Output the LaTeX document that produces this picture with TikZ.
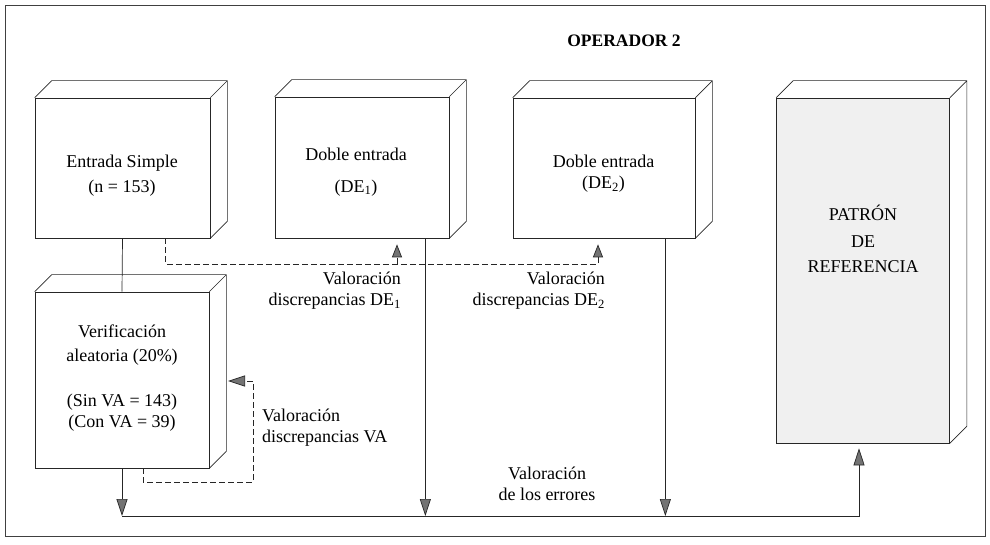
\documentclass[tikz,border=0pt]{standalone}
\usepackage{fontspec}
\setmainfont{Liberation Serif}
\newfontfamily\diagserif{Liberation Serif}
\usetikzlibrary{arrows.meta}
\begin{document}
\begin{tikzpicture}[x=1pt,y=-1pt,
  face/.style={draw=black!85, line width=0.7pt, inner sep=0pt},
  lbl/.style={font=\diagserif\fontsize{18}{21}\selectfont, inner sep=0pt, align=center},
  conn/.style={draw=black!85, line width=0.7pt},
  dashconn/.style={conn, dash pattern=on 6pt off 3pt},
  arrowtip/.style={-{Triangle[length=17pt,width=11pt,fill=black!55]}},
  smalltip/.style={-{Triangle[length=13pt,width=10pt,fill=black!55]}},
  ]
\newcommand\cubeface[1]{\draw[face] (#1.north west) -- ++(17,-17) -- ([shift={(17,-17)}]#1.north east) -- ([shift={(17,-17)}]#1.south east) -- (#1.south east) (#1.north east) -- ++(17,-17);}
\useasboundingbox (0,0) rectangle (990,545);
\draw[line width=0.8pt, draw=black!75] (5,5) rectangle (985,536);

\node[lbl, font=\diagserif\bfseries\fontsize{17.5}{21}\selectfont] (title) at (624,41) {OPERADOR 2};

% boxes
\node[face, minimum width=175pt, minimum height=140pt] (ES) at (122.5,168) {};
\node[face, minimum width=174pt, minimum height=141pt] (DE1) at (362,167.5) {};
\node[face, minimum width=182pt, minimum height=140pt] (DE2) at (604,168) {};
\node[face, fill=gray!12, minimum width=173pt, minimum height=345pt] (PR) at (863,270.5) {};
\node[face, minimum width=174pt, minimum height=176pt] (VE) at (122,380) {};
\cubeface{ES}\cubeface{DE1}\cubeface{DE2}\cubeface{PR}\cubeface{VE}

% box texts
\node[lbl] (tES) at (122,176) {Entrada Simple\\[4pt](n = 153)};
\node[lbl] (tDE1) at (356,172) {Doble entrada\\[11pt](DE\textsubscript{1})};
\node[lbl] (tDE2) at (603.5,174) {Doble entrada\\(DE\textsubscript{2})};
\node[lbl] (tPR) at (863,239) {PATRÓN\\[6pt]DE\\[4pt]REFERENCIA};
\node[lbl] (tVE) at (122,378) {Verificación\\[3pt]aleatoria (20\%)\\[24pt](Sin VA = 143)\\(Con VA = 39)};

% connector labels
\node[lbl, align=right, anchor=east] (l1) at (401,291) {Valoración\\discrepancias DE\textsubscript{1}};
\node[lbl, align=right, anchor=east] (l2) at (605,291) {Valoración\\discrepancias DE\textsubscript{2}};
\node[lbl, align=left, anchor=west] (l3) at (262,428) {Valoración\\discrepancias VA};
\node[lbl] (l4) at (547,484) {Valoración\\de los errores};

% helper coordinates
\coordinate (dl) at (0,264);
\coordinate (bl) at (0,516);
\coordinate (s1) at ([xshift=43pt]ES.south);
\coordinate (a1) at ([xshift=35pt]DE1.south);
\coordinate (a2) at ([xshift=-6pt]DE2.south);
\coordinate (c1) at ([xshift=-24pt]DE1.south east);
\coordinate (c2) at ([xshift=-30pt]DE2.south east);
\coordinate (s2) at ([xshift=21pt]VE.south);
\coordinate (p1) at ([xshift=-4pt]PR.south);
\coordinate (vr) at (253,482);
\coordinate (vt) at (228,381);

% solid connectors
\draw[conn] (ES.south) -- (VE.north);
\draw[conn, arrowtip] (VE.south) -- (VE.south |- bl);
\draw[conn, arrowtip, shorten >=5pt] (VE.south |- bl) -| (p1);
\draw[conn, arrowtip] (c1) -- (c1 |- bl);
\draw[conn, arrowtip] (c2) -- (c2 |- bl);

% dashed connectors
\draw[dashconn, smalltip, shorten >=6pt] (s1) |- (a2 |- dl) -- (a2);
\draw[dashconn, smalltip, shorten >=6pt] (a1 |- dl) -- (a1);
\draw[dashconn, arrowtip] (s2) |- (vr) |- (vt);
\end{tikzpicture}
\end{document}
